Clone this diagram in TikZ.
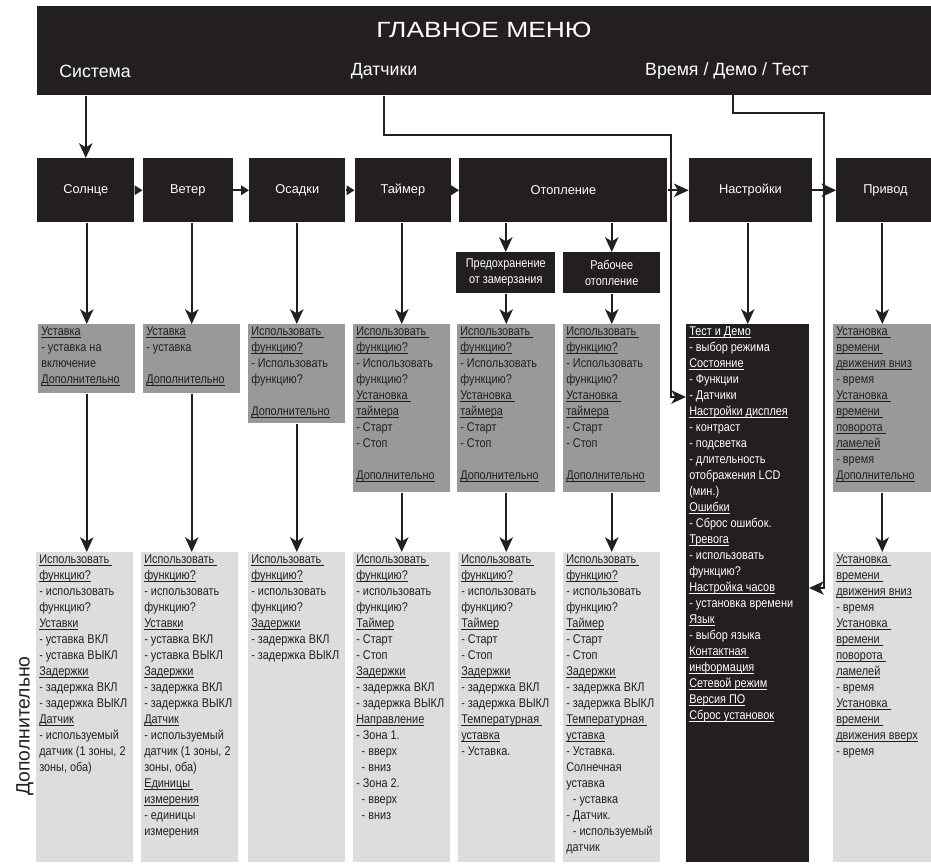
\documentclass[tikz,border=0pt]{standalone}
\usepackage{fontspec}
\setmainfont[FakeStretch=0.86]{Liberation Sans}
\newfontfamily\plainfamily{Liberation Sans}
\newfontfamily\widefamily[FakeStretch=1.2]{Liberation Sans}
\usepackage{tikz}
\usetikzlibrary{arrows.meta,positioning}
\definecolor{ink}{HTML}{231F20}
\definecolor{midgray}{HTML}{999999}
\definecolor{pale}{HTML}{DDDDDD}
\newcommand{\boxfont}{\fontsize{9.5}{12}\selectfont}
\newcommand{\headfont}{\plainfamily\fontsize{9.6}{12}\selectfont}
\newcommand{\titlefont}{\widefamily\fontsize{16.5}{20}\selectfont}
\newcommand{\groupfont}{\plainfamily\fontsize{13.3}{15}\selectfont}
\newcommand{\sidefont}{\plainfamily\fontsize{14.5}{17}\selectfont}
\newcommand{\hd}[1]{\leavevmode\setbox0=\hbox{#1}\rlap{\rule[-1.6pt]{\wd0}{0.5pt}}\box0}
\newcommand{\cells}[3]{\parbox[t][#2][t]{#1}{\raggedright\strut#3}}
\tikzset{
  menubar/.style={fill=ink, inner sep=0pt, anchor=north west},
  head/.style={fill=ink, text=white, minimum height=48pt, inner sep=0pt, anchor=north west, font=\headfont},
  subhead/.style={fill=ink, text=white, align=center, minimum height=30.75pt, inner sep=0pt, anchor=north west, font=\boxfont},
  level/.style={fill=midgray, text=ink, anchor=north west, inner xsep=2.25pt, inner ysep=0pt, font=\boxfont},
  detail/.style={level, fill=pale},
  darklist/.style={level, fill=ink, text=white},
  arrow/.style={-{Stealth[length=11pt,width=10pt,inset=3pt]}, line width=1.5pt, draw=ink},
  tri/.style={-{Triangle[length=6pt,width=7pt]}, line width=1.5pt, draw=ink},
}

\begin{document}
\begin{tikzpicture}[x=0.75pt, y=-0.75pt]
\useasboundingbox (0,0) rectangle (931,866);

% main menu bar
\node[menubar, minimum width=670.5pt, minimum height=66.75pt] (menu) at (37,6) {};
\node[font=\titlefont, text=white] (title) at (484,30) {ГЛАВНОЕ МЕНЮ};
\node[font=\groupfont, text=white] (sys) at (95,71) {Система};
\node[font=\groupfont, text=white] (sens) at (384,71) {Датчики};
\node[font=\groupfont, text=white] (tdt) at (727,71) {Время / Демо / Тест};

% first level
\node[head, minimum width=72.75pt] (sun) at (37,158) {Солнце};
\node[head, minimum width=67.5pt, right=6pt of sun] (wind) {Ветер};
\node[head, minimum width=72pt, right=12pt of wind] (rain) {Осадки};
\node[head, minimum width=72pt, right=6.75pt of rain] (timer) {Таймер};
\node[head, minimum width=156pt, right=6pt of timer] (heat) {Отопление};
\node[head, minimum width=92.25pt, right=15.75pt of heat] (setup) {Настройки};
\node[head, minimum width=73.5pt, right=18pt of setup] (drive) {Привод};

\node[subhead, minimum width=74.25pt] (frost) at (456,252) {Предохранение\\от замерзания};
\node[subhead, minimum width=72.75pt] (work) at (563,252) {Рабочее\\отопление};

% second level
\node[level] (sun-a) at (38,324) {\cells{68.25pt}{51.75pt}{\hd{Уставка}\\- уставка на\\включение\\\hd{Дополнительно}}};
\node[level] (wind-a) at (143,324) {\cells{68.25pt}{51.75pt}{\hd{Уставка}\\- уставка\\~\\\hd{Дополнительно}}};
\node[level] (rain-a) at (248,324) {\cells{68.25pt}{74.25pt}{\hd{Использовать\ }\\\hd{функцию?}\\- Использовать\\функцию?\\~\\\hd{Дополнительно}}};
\node[level] (timer-a) at (353,324) {\cells{68.25pt}{126pt}{\hd{Использовать\ }\\\hd{функцию?}\\- Использовать\\функцию?\\\hd{Установка\ }\\\hd{таймера}\\- Старт\\- Стоп\\~\\\hd{Дополнительно}}};
\node[level] (frost-a) at (457,324) {\cells{69pt}{126pt}{\hd{Использовать\ }\\\hd{функцию?}\\- Использовать\\функцию?\\\hd{Установка\ }\\\hd{таймера}\\- Старт\\- Стоп\\~\\\hd{Дополнительно}}};
\node[level] (work-a) at (563,324) {\cells{68.25pt}{126pt}{\hd{Использовать\ }\\\hd{функцию?}\\- Использовать\\функцию?\\\hd{Установка\ }\\\hd{таймера}\\- Старт\\- Стоп\\~\\\hd{Дополнительно}}};
\node[darklist] (set-a) at (686,324) {\cells{87.75pt}{403.5pt}{\hd{Тест и Демо}\\- выбор режима\\\hd{Состояние}\\- Функции\\- Датчики\\\hd{Настройки дисплея}\\- контраст\\- подсветка\\- длительность\\отображения LCD\\(мин.)\\\hd{Ошибки}\\- Сброс ошибок.\\\hd{Тревога}\\- использовать\\функцию?\\\hd{Настройка часов}\\- установка времени\\\hd{Язык}\\- выбор языка\\\hd{Контактная\ }\\\hd{информация}\\\hd{Сетевой режим}\\\hd{Версия ПО}\\\hd{Сброс установок}}};
\node[level] (drive-a) at (833,324) {\cells{69pt}{126pt}{\hd{Установка\ }\\\hd{времени\ }\\\hd{движения вниз}\\- время\\\hd{Установка\ }\\\hd{времени\ }\\\hd{поворота\ }\\\hd{ламелей}\\- время\\\hd{Дополнительно}}};

% third level
\node[detail] (sun-b) at (36,552) {\cells{68.25pt}{232.5pt}{\hd{Использовать\ }\\\hd{функцию?}\\- использовать\\функцию?\\\hd{Уставки}\\- уставка ВКЛ\\- уставка ВЫКЛ\\\hd{Задержки}\\- задержка ВКЛ\\- задержка ВЫКЛ\\\hd{Датчик}\\- используемый\\датчик (1 зоны, 2\\зоны, оба)}};
\node[detail] (wind-b) at (141,552) {\cells{68.25pt}{232.5pt}{\hd{Использовать\ }\\\hd{функцию?}\\- использовать\\функцию?\\\hd{Уставки}\\- уставка ВКЛ\\- уставка ВЫКЛ\\\hd{Задержки}\\- задержка ВКЛ\\- задержка ВЫКЛ\\\hd{Датчик}\\- используемый\\датчик (1 зоны, 2\\зоны, оба)\\\hd{Единицы\ }\\\hd{измерения}\\- единицы\\измерения}};
\node[detail] (rain-b) at (248,552) {\cells{68.25pt}{232.5pt}{\hd{Использовать\ }\\\hd{функцию?}\\- использовать\\функцию?\\\hd{Задержки}\\- задержка ВКЛ\\- задержка ВЫКЛ}};
\node[detail] (timer-b) at (353,552) {\cells{68.25pt}{232.5pt}{\hd{Использовать\ }\\\hd{функцию?}\\- использовать\\функцию?\\\hd{Таймер}\\- Старт\\- Стоп\\\hd{Задержки}\\- задержка ВКЛ\\- задержка ВЫКЛ\\\hd{Направление}\\- Зона 1.\\\hspace*{4pt}- вверх\\\hspace*{4pt}- вниз\\- Зона 2.\\\hspace*{4pt}- вверх\\\hspace*{4pt}- вниз}};
\node[detail] (frost-b) at (458,552) {\cells{68.25pt}{232.5pt}{\hd{Использовать\ }\\\hd{функцию?}\\- использовать\\функцию?\\\hd{Таймер}\\- Старт\\- Стоп\\\hd{Задержки}\\- задержка ВКЛ\\- задержка ВЫКЛ\\\hd{Температурная\ }\\\hd{уставка}\\- Уставка.}};
\node[detail] (work-b) at (563,552) {\cells{68.25pt}{232.5pt}{\hd{Использовать\ }\\\hd{функцию?}\\- использовать\\функцию?\\\hd{Таймер}\\- Старт\\- Стоп\\\hd{Задержки}\\- задержка ВКЛ\\- задержка ВЫКЛ\\\hd{Температурная\ }\\\hd{уставка}\\- Уставка.\\Солнечная\\уставка\\\hspace*{5pt}- уставка\\- Датчик.\\\hspace*{5pt}- используемый\\датчик}};
\node[detail] (drive-b) at (833,552) {\cells{69pt}{232.5pt}{\hd{Установка\ }\\\hd{времени\ }\\\hd{движения вниз}\\- время\\\hd{Установка\ }\\\hd{времени\ }\\\hd{поворота\ }\\\hd{ламелей}\\- время\\\hd{Установка\ }\\\hd{времени\ }\\\hd{движения вверх}\\- время}};

\node[rotate=90, font=\sidefont, text=ink] (extra) at (25,726) {Дополнительно};

% connectors
\coordinate (sensbend) at (671,135);
\coordinate (sensin) at (686,397);
\coordinate (timeout) at (733,95);
\coordinate (timebend) at (824,113);
\coordinate (timein) at (809,588);

\draw[arrow] (sun.north |- menu.south) -- (sun.north);
\draw[arrow] (sens |- menu.south) |- (sensbend) |- (sensin);
\draw[arrow] (timeout) |- (timebend) |- (timein);

\draw[tri] (sun) -- (wind);
\draw[tri] (wind) -- (rain);
\draw[tri] (rain) -- (timer);
\draw[tri] (timer) -- (heat);
\draw[arrow] (heat) -- (setup);
\draw[arrow] (setup) -- (drive);

\foreach \a/\b in {sun/sun-a, wind/wind-a, rain/rain-a, timer/timer-a, setup/set-a, drive/drive-a}
  \draw[arrow] (\b.north |- \a.south) -- (\b.north);
\draw[arrow] (frost.north |- heat.south) -- (frost.north);
\draw[arrow] (work.north |- heat.south) -- (work.north);
\draw[arrow] (frost-a.north |- frost.south) -- (frost-a.north);
\draw[arrow] (work-a.north |- work.south) -- (work-a.north);

\foreach \n in {sun, wind, rain, timer, frost, work, drive}
  \draw[arrow] (\n-a.south) -- (\n-a.south |- \n-b.north);
\end{tikzpicture}
\end{document}
